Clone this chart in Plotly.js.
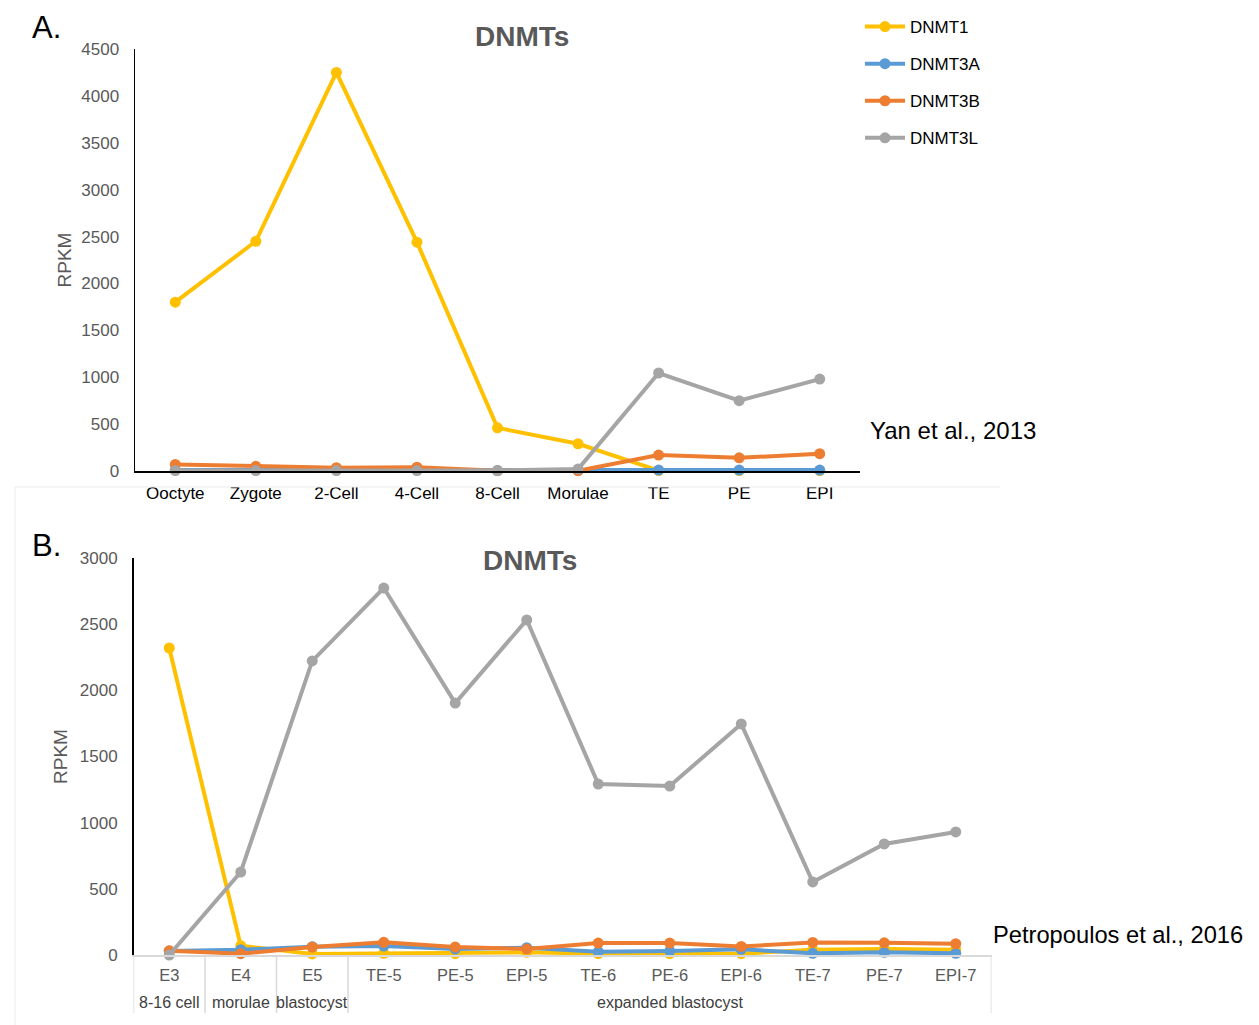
<!DOCTYPE html>
<html>
<head>
<meta charset="utf-8">
<script src="https://cdn.plot.ly/plotly-3.0.1.min.js"></script>
<style>
html,body{margin:0;padding:0;background:#fff;}
#chart{width:1259px;height:1025px;}
</style>
</head>
<body>
<div id="chart"></div>
<script>
// ---- Data: panel A (Yan et al., 2013) ----
var stagesA = ["Ooctyte","Zygote","2-Cell","4-Cell","8-Cell","Morulae","TE","PE","EPI"];
var dnmt1A  = [1800, 2450, 4250, 2440, 460, 290, 5, 5, 5];
var dnmt3aA = [10, 10, 10, 10, 5, 5, 10, 10, 10];
var dnmt3bA = [70, 50, 35, 40, 3, 3, 170, 140, 185];
var dnmt3lA = [5, 5, 5, 5, 5, 20, 1045, 750, 980];

// ---- Data: panel B (Petropoulos et al., 2016) ----
var stagesB = ["E3","E4","E5","TE-5","PE-5","EPI-5","TE-6","PE-6","EPI-6","TE-7","PE-7","EPI-7"];
var groupsB = ["8-16 cell","morulae","blastocyst","expanded blastocyst"];
var groupSpan = [[0,0],[1,1],[2,2],[3,11]];
var dnmt1B  = [2320, 70, 8, 12, 10, 20, 10, 10, 10, 40, 45, 40];
var dnmt3aB = [30, 40, 63, 68, 45, 55, 25, 30, 43, 13, 20, 13];
var dnmt3bB = [32, 10, 60, 96, 60, 45, 90, 90, 65, 95, 92, 85];
var dnmt3lB = [0, 627, 2222, 2773, 1904, 2532, 1292, 1277, 1746, 552, 839, 930];

var names  = ["DNMT1","DNMT3A","DNMT3B","DNMT3L"];
var colors = ["#FFC000","#5B9BD5","#ED7D31","#A5A5A5"];
var seriesA = [dnmt1A, dnmt3aA, dnmt3bA, dnmt3lA];
var seriesB = [dnmt1B, dnmt3aB, dnmt3bB, dnmt3lB];

var W = 1259, H = 1025;
function px(x){ return x / W; }
function py(y){ return 1 - y / H; }

var FONT = "Liberation Sans, Arial, Helvetica, sans-serif";
var traces = [];
for (var i = 0; i < names.length; i++) {
  traces.push({
    x: stagesA, y: seriesA[i], name: names[i], type: "scatter", mode: "lines+markers",
    line: {color: colors[i], width: 4}, marker: {color: colors[i], size: 11},
    xaxis: "x", yaxis: "y", cliponaxis: false, legendgroup: "g" + i, showlegend: true
  });
}
for (var j = 0; j < names.length; j++) {
  traces.push({
    x: stagesB, y: seriesB[j], name: names[j], type: "scatter", mode: "lines+markers",
    line: {color: colors[j], width: 4}, marker: {color: colors[j], size: 11},
    xaxis: "x2", yaxis: "y2", cliponaxis: false, legendgroup: "g" + j, showlegend: false
  });
}

var shapes = [
  // faint frame lines of the two panels
  {type:"line", xref:"paper", yref:"paper", x0:px(15), x1:px(1000), y0:py(487), y1:py(487), line:{color:"#ebebeb", width:1}},
  {type:"line", xref:"paper", yref:"paper", x0:px(15), x1:px(15), y0:py(487), y1:0, line:{color:"#ebebeb", width:1}}
];
// dividers of the multi-level category axis in panel B
var divs = [-0.5, 0.5, 1.5, 2.5, stagesB.length - 0.5];
divs.forEach(function(d){
  shapes.push({type:"line", xref:"x2", yref:"paper", x0:d, x1:d, y0:py(955), y1:py(1013), line:{color:"#d9d9d9", width:1.5}});
});

var annotations = [
  {text:"A.", xref:"paper", yref:"paper", x:px(46), y:py(27), xanchor:"center", yanchor:"middle", showarrow:false, font:{family:FONT, size:31, color:"#000"}},
  {text:"B.", xref:"paper", yref:"paper", x:px(46), y:py(545), xanchor:"center", yanchor:"middle", showarrow:false, font:{family:FONT, size:31, color:"#000"}},
  {text:"<b>DNMTs</b>", xref:"paper", yref:"paper", x:px(522), y:py(36), xanchor:"center", yanchor:"middle", showarrow:false, font:{family:FONT, size:28, color:"#595959"}},
  {text:"<b>DNMTs</b>", xref:"paper", yref:"paper", x:px(530), y:py(560), xanchor:"center", yanchor:"middle", showarrow:false, font:{family:FONT, size:28, color:"#595959"}},
  {text:"Yan et al., 2013", xref:"paper", yref:"paper", x:px(868), y:py(431), xanchor:"left", yanchor:"middle", showarrow:false, font:{family:FONT, size:24, color:"#000"}},
  {text:"Petropoulos et al., 2016", xref:"paper", yref:"paper", x:px(991), y:py(935), xanchor:"left", yanchor:"middle", showarrow:false, font:{family:FONT, size:23.7, color:"#000"}}
];
groupsB.forEach(function(g, k){
  annotations.push({text:g, xref:"x2", yref:"paper", x:(groupSpan[k][0] + groupSpan[k][1]) / 2, y:py(1002),
    xanchor:"center", yanchor:"middle", showarrow:false, font:{family:FONT, size:16, color:"#404040"}});
});

var layout = {
  width: W, height: H,
  margin: {l:0, r:0, t:0, b:0},
  paper_bgcolor: "#fff", plot_bgcolor: "rgba(0,0,0,0)",
  font: {family: FONT},
  showlegend: true,
  legend: {x: px(860), y: py(9), xanchor:"left", yanchor:"top", font:{family:FONT, size:17, color:"#000"},
           tracegroupgap: 12, bgcolor:"rgba(0,0,0,0)", itemwidth: 40},
  xaxis: {domain:[px(135), px(860)], anchor:"y", type:"category", range:[-0.5, stagesA.length - 0.5],
          showline:true, linecolor:"#000", linewidth:1.5, showgrid:false, zeroline:false, ticks:"",
          tickfont:{family:FONT, size:17, color:"#000"}, ticklabelstandoff: 6, fixedrange:true},
  yaxis: {domain:[py(471), py(49)], anchor:"x", range:[0, 4500], dtick:500, tick0:0,
          showline:true, linecolor:"#000", linewidth:1.5, showgrid:false, zeroline:false, ticks:"",
          tickfont:{family:FONT, size:17, color:"#595959"}, ticklabelstandoff: 11,
          title:{text:"RPKM", font:{family:FONT, size:19, color:"#595959"}, standoff: 4}},
  xaxis2: {domain:[px(133.5), px(991.5)], anchor:"y2", type:"category", range:[-0.5, stagesB.length - 0.5],
          showline:true, linecolor:"#d9d9d9", linewidth:1.5, showgrid:false, zeroline:false, ticks:"",
          tickfont:{family:FONT, size:16.5, color:"#595959"}, ticklabelstandoff: 5},
  yaxis2: {domain:[py(955), py(558)], anchor:"x2", range:[0, 3000], dtick:500, tick0:0,
          showline:true, linecolor:"#000", linewidth:1.5, showgrid:false, zeroline:false, ticks:"",
          tickfont:{family:FONT, size:17, color:"#595959"}, ticklabelstandoff: 11,
          title:{text:"RPKM", font:{family:FONT, size:19, color:"#595959"}, standoff: 7}},
  shapes: shapes,
  annotations: annotations
};

Plotly.newPlot("chart", traces, layout, {displayModeBar:false, staticPlot:true});
</script>
</body>
</html>
